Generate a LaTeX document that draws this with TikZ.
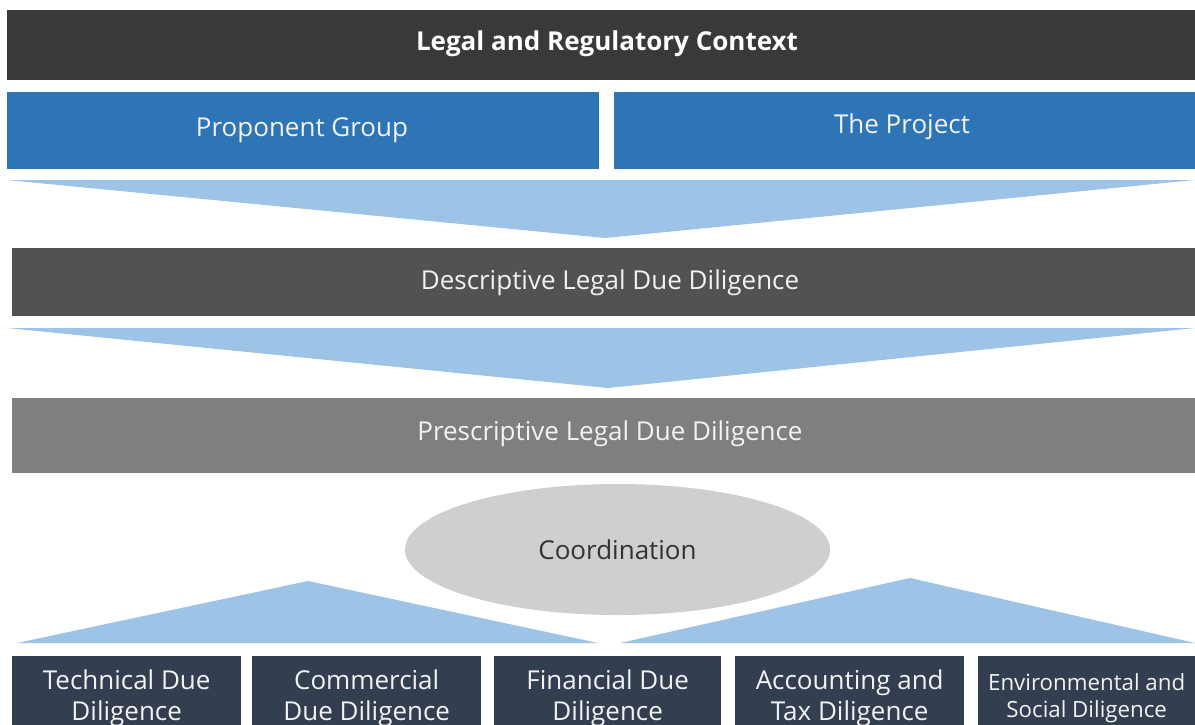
\documentclass[tikz,border=0pt]{standalone}
\usepackage{fontspec}
\setmainfont{Open Sans}
\usetikzlibrary{shapes.geometric}
\definecolor{topbar}{HTML}{3B3838}
\definecolor{bluebar}{HTML}{2E75B6}
\definecolor{lightblue}{HTML}{9DC3E6}
\definecolor{descgray}{HTML}{525252}
\definecolor{presgray}{HTML}{7F7F7F}
\definecolor{ellgray}{HTML}{D0CECE}
\definecolor{slate}{HTML}{333F50}
\definecolor{offwhite}{HTML}{F2F2F2}
\tikzset{
  bar/.style={rectangle, inner sep=0pt, anchor=north west},
  lbl/.style={text=offwhite, inner sep=0pt, font=\fontsize{26}{30}\selectfont},
  wedge/.style={fill=lightblue, draw=none},
  ddbox/.style={rectangle, inner sep=0pt, anchor=north west, fill=slate, text=offwhite,
    align=center, minimum height=84pt, font=\fontsize{26}{31}\selectfont},
}
\begin{document}
\begin{tikzpicture}[x=1pt,y=-1pt]
\useasboundingbox[fill=white] (0,0) rectangle (1195,724);
% top bar
\node[bar, fill=topbar, minimum width=1188pt, minimum height=70pt] (ctx) at (7,10) {};
\node[lbl, text=white, font=\bfseries\fontsize{26}{30}\selectfont] (ctxt) at (607,44) {Legal and Regulatory Context};
% blue bars
\node[bar, fill=bluebar, minimum width=592pt, minimum height=77pt] (prop) at (7,92) {};
\node[lbl] (propt) at (302,130) {Proponent Group};
\node[bar, fill=bluebar, minimum width=581pt, minimum height=77pt] (proj) at (614,92) {};
\node[lbl] (projt) at (902,127) {The Project};
% wedge 1
\fill[wedge] (7,180) -- (1195,180) -- (605,238) -- cycle;
% descriptive
\node[bar, fill=descgray, minimum width=1183pt, minimum height=68pt] (desc) at (12,248) {};
\node[lbl] (desct) at (610,283) {Descriptive Legal Due Diligence};
% wedge 2
\fill[wedge] (7,328) -- (1195,328) -- (608,388) -- cycle;
% prescriptive
\node[bar, fill=presgray, minimum width=1183pt, minimum height=75pt] (pres) at (12,398) {};
\node[lbl] (prest) at (610,434) {Prescriptive Legal Due Diligence};
% bottom wedges
\fill[wedge] (17,643) -- (308,581) -- (598,643) -- cycle;
\fill[wedge] (620,643) -- (910,578) -- (1195,643) -- cycle;
% coordination
\node[ellipse, fill=ellgray, minimum width=425pt, minimum height=131pt, inner sep=0pt,
  text=black!80, font=\fontsize{26}{30}\selectfont] (coord) at (617.5,549.5) {Coordination};
% bottom boxes
\node[ddbox, minimum width=229pt] (tech) at (12,656) {Technical Due\\Diligence};
\node[ddbox, minimum width=229pt] (comm) at (252,656) {Commercial\\Due Diligence};
\node[ddbox, minimum width=227pt] (fin) at (494,656) {Financial Due\\Diligence};
\node[ddbox, minimum width=229pt] (acc) at (735,656) {Accounting and\\Tax Diligence};
\node[ddbox, minimum width=217pt, font=\fontsize{22.3}{27}\selectfont] (env) at (978,656) {Environmental and\\Social Diligence};
\end{tikzpicture}
\end{document}
